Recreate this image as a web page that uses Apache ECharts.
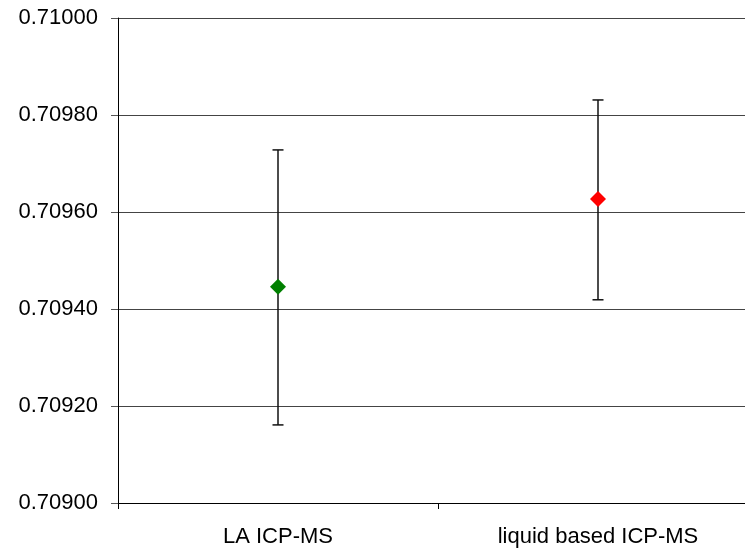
<!DOCTYPE html>
<html>
<head>
<meta charset="utf-8">
<script src="https://cdn.jsdelivr.net/npm/echarts@6/dist/echarts.min.js"></script>
<style>html,body{margin:0;padding:0;background:#fff}#c{width:745px;height:552px}</style>
</head>
<body>
<div id="c"></div>
<script>
var categories = ['LA ICP-MS', 'liquid based ICP-MS'];
var means = [0.709446, 0.709627];
var upper = [0.709728, 0.709831];
var lower = [0.709161, 0.709419];
var yTicks = [0.709, 0.7092, 0.7094, 0.7096, 0.7098, 0.71];
var pointColors = ['#008000', '#ff0000'];

var chart = echarts.init(document.getElementById('c'), null, {renderer: 'canvas'});
var errData = categories.map(function (c, i) { return [i, lower[i], upper[i]]; });
var ptData = categories.map(function (c, i) {
  return {value: [i, means[i]], itemStyle: {color: pointColors[i], opacity: 1}};
});
chart.setOption({
  animation: false,
  backgroundColor: '#fff',
  grid: {left: 118, width: 640, top: 18, bottom: 49, containLabel: false, outerBoundsMode: 'none'},
  xAxis: {
    type: 'category',
    data: categories,
    boundaryGap: true,
    axisLine: {show: true, lineStyle: {color: '#000', width: 1}},
    axisTick: {show: true, length: 6, lineStyle: {color: '#000'}},
    axisLabel: {fontFamily: 'Liberation Sans, Arial, sans-serif', fontSize: 22, color: '#000', margin: 23},
    splitLine: {show: false}
  },
  yAxis: {
    type: 'value',
    min: yTicks[0],
    max: yTicks[yTicks.length - 1],
    interval: 0.0002,
    axisLine: {show: true, lineStyle: {color: '#000', width: 1}},
    axisTick: {show: true, length: 7, lineStyle: {color: '#555'}},
    axisLabel: {
      fontFamily: 'Liberation Sans, Arial, sans-serif', fontSize: 22, color: '#000', margin: 20,
      formatter: function (v) { return v.toFixed(5); }
    },
    splitLine: {show: true, lineStyle: {color: '#444', width: 1}}
  },
  series: [
    {
      type: 'custom',
      data: errData,
      z: 2,
      clip: false,
      renderItem: function (params, api) {
        var x = api.value(0);
        var lo = api.coord([x, api.value(1)]);
        var hi = api.coord([x, api.value(2)]);
        var cap = 5.5;
        var st = {stroke: '#111', lineWidth: 1.5};
        return {
          type: 'group',
          children: [
            {type: 'line', shape: {x1: lo[0], y1: lo[1], x2: hi[0], y2: hi[1]}, style: st},
            {type: 'line', shape: {x1: lo[0] - cap, y1: lo[1], x2: lo[0] + cap, y2: lo[1]}, style: st},
            {type: 'line', shape: {x1: hi[0] - cap, y1: hi[1], x2: hi[0] + cap, y2: hi[1]}, style: st}
          ]
        };
      }
    },
    {
      type: 'scatter',
      data: ptData,
      symbol: 'diamond',
      symbolSize: [16, 16],
      itemStyle: {opacity: 1},
      z: 3
    }
  ]
});
</script>
</body>
</html>
